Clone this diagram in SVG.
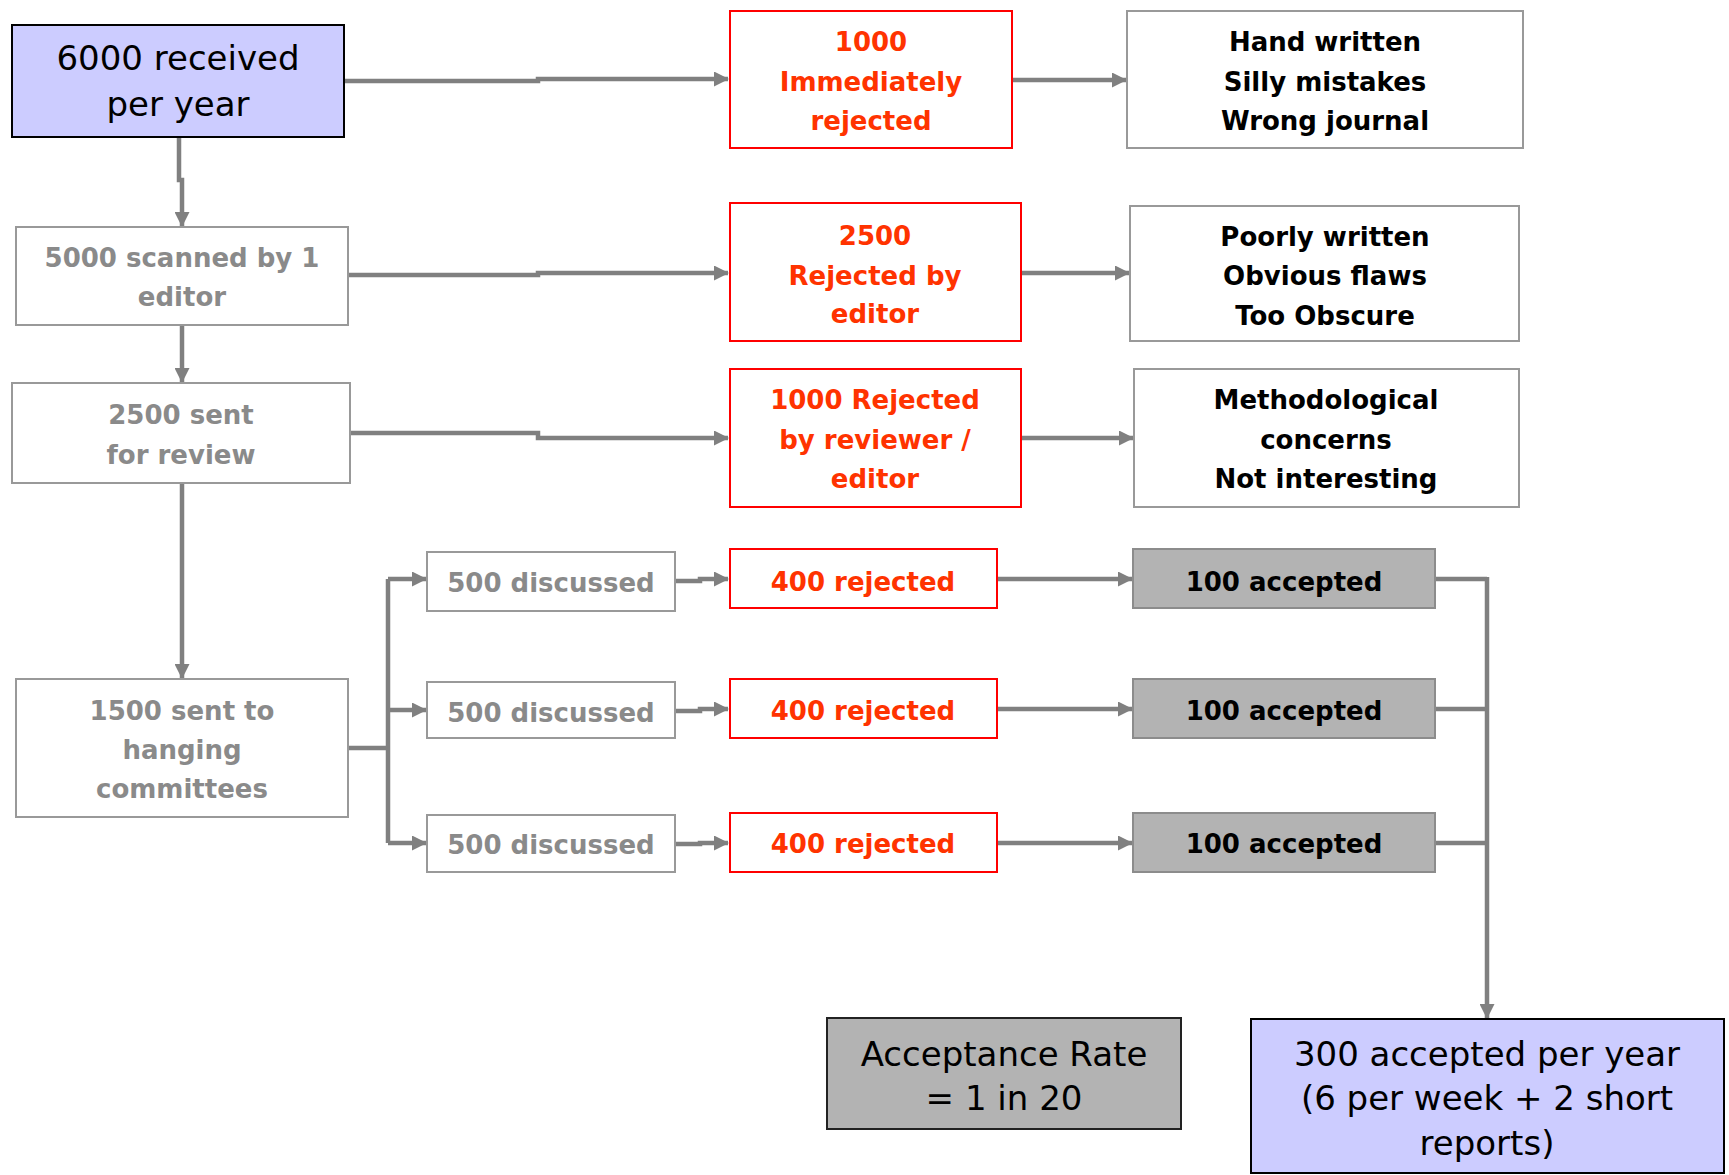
<svg xmlns="http://www.w3.org/2000/svg" width="1729" height="1175" viewBox="0 0 1729 1175">
<style>
text{font-family:"DejaVu Sans","Liberation Sans",sans-serif;text-anchor:middle}
.big{font-size:34px;fill:#000}
.blk{font-size:26px;font-weight:bold;fill:#000}
.red{font-size:26px;font-weight:bold;fill:#ff3300}
.gry{font-size:26px;font-weight:bold;fill:#8a8a8a}
.bl{fill:#ccccff;stroke:#000;stroke-width:2}
.wg{fill:#fff;stroke:#999;stroke-width:2}
.rd{fill:#fff;stroke:#ff0000;stroke-width:2}
.ac{fill:#b3b3b3;stroke:#8c8c8c;stroke-width:2}
.ar{fill:#b3b3b3;stroke:#222;stroke-width:2}
.c{fill:none;stroke:#808080;stroke-width:4.5}
</style>
<defs>
<marker id="ah" markerUnits="userSpaceOnUse" markerWidth="15" markerHeight="15" refX="14" refY="7.5" orient="auto">
<path d="M0,0 L15,7.5 L0,15 Z" fill="#808080"/>
</marker>
</defs>
<g id="connectors">
<path class="c" d="M344,81 H538 V79 H728" marker-end="url(#ah)"/>
<path class="c" d="M179,137 V180 H182 V226" marker-end="url(#ah)"/>
<path class="c" d="M348,275 H538 V273 H728" marker-end="url(#ah)"/>
<path class="c" d="M182,325 V382" marker-end="url(#ah)"/>
<path class="c" d="M350,433 H538 V438 H728" marker-end="url(#ah)"/>
<path class="c" d="M182,483 V678" marker-end="url(#ah)"/>
<path class="c" d="M1012,80 H1126" marker-end="url(#ah)"/>
<path class="c" d="M1021,273 H1129" marker-end="url(#ah)"/>
<path class="c" d="M1021,438 H1133" marker-end="url(#ah)"/>
<path class="c" d="M348,748 H388"/>
<path class="c" d="M388,579 V843"/>
<path class="c" d="M388,579 H426" marker-end="url(#ah)"/>
<path class="c" d="M388,710 H426" marker-end="url(#ah)"/>
<path class="c" d="M388,843 H426" marker-end="url(#ah)"/>
<path class="c" d="M675,581 H700 V579 H728" marker-end="url(#ah)"/>
<path class="c" d="M675,711 H700 V709 H728" marker-end="url(#ah)"/>
<path class="c" d="M675,844 H700 V843 H728" marker-end="url(#ah)"/>
<path class="c" d="M997,579 H1132" marker-end="url(#ah)"/>
<path class="c" d="M997,709 H1132" marker-end="url(#ah)"/>
<path class="c" d="M997,843 H1132" marker-end="url(#ah)"/>
<path class="c" d="M1435,579 H1487"/>
<path class="c" d="M1435,709 H1487"/>
<path class="c" d="M1435,843 H1487"/>
<path class="c" d="M1487,577 V1018" marker-end="url(#ah)"/>
</g>
<g id="n6000"><rect class="bl" x="12" y="25" width="332" height="112"/><text class="big" x="178" y="70">6000 received</text><text class="big" x="178" y="116">per year</text></g>
<g id="n5000"><rect class="wg" x="16" y="227" width="332" height="98"/><text class="gry" x="182" y="267">5000 scanned by 1</text><text class="gry" x="182" y="306">editor</text></g>
<g id="n2500sent"><rect class="wg" x="12" y="383" width="338" height="100"/><text class="gry" x="181" y="424">2500 sent</text><text class="gry" x="181" y="464">for review</text></g>
<g id="n1500"><rect class="wg" x="16" y="679" width="332" height="138"/><text class="gry" x="182" y="720">1500 sent to</text><text class="gry" x="182" y="759">hanging</text><text class="gry" x="182" y="798">committees</text></g>
<g id="r1000"><rect class="rd" x="730" y="11" width="282" height="137"/><text class="red" x="871" y="51">1000</text><text class="red" x="871" y="91">Immediately</text><text class="red" x="871" y="130">rejected</text></g>
<g id="r2500"><rect class="rd" x="730" y="203" width="291" height="138"/><text class="red" x="875" y="245">2500</text><text class="red" x="875" y="285">Rejected by</text><text class="red" x="875" y="323">editor</text></g>
<g id="r1000b"><rect class="rd" x="730" y="369" width="291" height="138"/><text class="red" x="875" y="409">1000 Rejected</text><text class="red" x="875" y="449">by reviewer /</text><text class="red" x="875" y="488">editor</text></g>
<g id="hand"><rect class="wg" x="1127" y="11" width="396" height="137"/><text class="blk" x="1325" y="51">Hand written</text><text class="blk" x="1325" y="91">Silly mistakes</text><text class="blk" x="1325" y="130">Wrong journal</text></g>
<g id="poorly"><rect class="wg" x="1130" y="206" width="389" height="135"/><text class="blk" x="1325" y="246">Poorly written</text><text class="blk" x="1325" y="285">Obvious flaws</text><text class="blk" x="1325" y="325">Too Obscure</text></g>
<g id="method"><rect class="wg" x="1134" y="369" width="385" height="138"/><text class="blk" x="1326" y="409">Methodological</text><text class="blk" x="1326" y="449">concerns</text><text class="blk" x="1326" y="488">Not interesting</text></g>
<g id="d1"><rect class="wg" x="427" y="552" width="248" height="59"/><text class="gry" x="551" y="592">500 discussed</text></g>
<g id="d2"><rect class="wg" x="427" y="682" width="248" height="56"/><text class="gry" x="551" y="722">500 discussed</text></g>
<g id="d3"><rect class="wg" x="427" y="815" width="248" height="57"/><text class="gry" x="551" y="854">500 discussed</text></g>
<g id="x1"><rect class="rd" x="730" y="549" width="267" height="59"/><text class="red" x="863" y="591">400 rejected</text></g>
<g id="x2"><rect class="rd" x="730" y="679" width="267" height="59"/><text class="red" x="863" y="720">400 rejected</text></g>
<g id="x3"><rect class="rd" x="730" y="813" width="267" height="59"/><text class="red" x="863" y="853">400 rejected</text></g>
<g id="a1"><rect class="ac" x="1133" y="549" width="302" height="59"/><text class="blk" x="1284" y="591">100 accepted</text></g>
<g id="a2"><rect class="ac" x="1133" y="679" width="302" height="59"/><text class="blk" x="1284" y="720">100 accepted</text></g>
<g id="a3"><rect class="ac" x="1133" y="813" width="302" height="59"/><text class="blk" x="1284" y="853">100 accepted</text></g>
<g id="rate"><rect class="ar" x="827" y="1018" width="354" height="111"/><text class="big" x="1004" y="1066">Acceptance Rate</text><text class="big" x="1004" y="1110">= 1 in 20</text></g>
<g id="final"><rect class="bl" x="1251" y="1019" width="473" height="154"/><text class="big" x="1487" y="1066">300 accepted per year</text><text class="big" x="1487" y="1110">(6 per week + 2 short</text><text class="big" x="1487" y="1155">reports)</text></g>
</svg>
